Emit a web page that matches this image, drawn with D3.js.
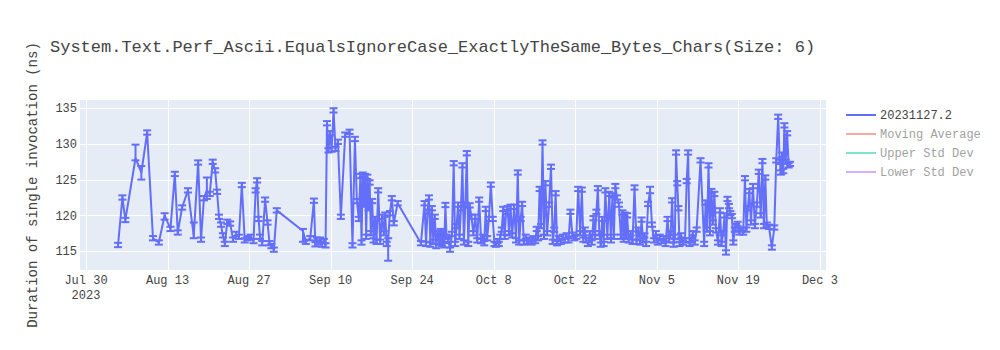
<!DOCTYPE html>
<html>
<head>
<meta charset="utf-8">
<script src="https://cdn.jsdelivr.net/npm/d3@7"></script>
<style>
  html, body { margin: 0; padding: 0; background: #fff; }
  svg { display: block; }
  text { font-family: "Courier New", "Liberation Mono", monospace; fill: #444; }
</style>
</head>
<body>
<svg id="chart" width="1000" height="350"></svg>
<script>
// ---------------- DATA ----------------
const chartTitle = "System.Text.Perf_Ascii.EqualsIgnoreCase_ExactlyTheSame_Bytes_Chars(Size: 6)";
const yAxisTitle = "Duration of single invocation (ns)";
const seriesName = "20231127.2";
const hiddenSeries = ["Moving Average", "Upper Std Dev", "Lower Std Dev"];

// run dates (several runs can share a day)
const runDates = [
  "2023-08-04","2023-08-05","2023-08-05","2023-08-07","2023-08-08","2023-08-09","2023-08-10","2023-08-11","2023-08-12","2023-08-13","2023-08-14","2023-08-14","2023-08-15","2023-08-16",
  "2023-08-17","2023-08-18","2023-08-18","2023-08-19","2023-08-19","2023-08-20","2023-08-20","2023-08-21","2023-08-21","2023-08-21","2023-08-22","2023-08-22","2023-08-22","2023-08-23","2023-08-23",
  "2023-08-24","2023-08-24","2023-08-25","2023-08-25","2023-08-26","2023-08-26","2023-08-27","2023-08-27","2023-08-28","2023-08-28","2023-08-28","2023-08-28","2023-08-29","2023-08-29","2023-08-30","2023-08-30","2023-08-30","2023-08-31","2023-08-31",
  "2023-09-05","2023-09-05","2023-09-06","2023-09-07","2023-09-07","2023-09-07","2023-09-07","2023-09-08","2023-09-08","2023-09-08","2023-09-09","2023-09-09","2023-09-09","2023-09-09","2023-09-10","2023-09-10","2023-09-10","2023-09-11","2023-09-11","2023-09-12","2023-09-13","2023-09-13","2023-09-14","2023-09-14","2023-09-14",
  "2023-09-15","2023-09-15","2023-09-15","2023-09-15","2023-09-15","2023-09-16","2023-09-16","2023-09-16","2023-09-16","2023-09-16","2023-09-17","2023-09-17","2023-09-17","2023-09-17","2023-09-18","2023-09-18","2023-09-18","2023-09-19","2023-09-19","2023-09-19","2023-09-19","2023-09-20","2023-09-20","2023-09-20","2023-09-21",
  "2023-09-25","2023-09-26","2023-09-26","2023-09-26","2023-09-26","2023-09-27","2023-09-27","2023-09-27","2023-09-27","2023-09-28","2023-09-28","2023-09-28","2023-09-28","2023-09-29","2023-09-29","2023-09-29","2023-09-29","2023-09-29","2023-09-30","2023-09-30","2023-09-30",
  "2023-10-01","2023-10-01","2023-10-01","2023-10-01","2023-10-02","2023-10-02","2023-10-02","2023-10-02","2023-10-03","2023-10-03","2023-10-03","2023-10-03","2023-10-04","2023-10-04","2023-10-04","2023-10-05","2023-10-05","2023-10-05","2023-10-06","2023-10-06","2023-10-06","2023-10-06","2023-10-07","2023-10-07","2023-10-07",
  "2023-10-08","2023-10-08","2023-10-08","2023-10-08","2023-10-09","2023-10-09","2023-10-09","2023-10-09","2023-10-10","2023-10-10","2023-10-10","2023-10-10","2023-10-11","2023-10-11","2023-10-11","2023-10-12","2023-10-12","2023-10-12","2023-10-12","2023-10-13","2023-10-13","2023-10-13","2023-10-14","2023-10-14","2023-10-14","2023-10-15","2023-10-15","2023-10-15","2023-10-15",
  "2023-10-16","2023-10-16","2023-10-16","2023-10-16","2023-10-17","2023-10-17","2023-10-17","2023-10-18","2023-10-18","2023-10-18","2023-10-18","2023-10-19","2023-10-19","2023-10-19","2023-10-20","2023-10-20","2023-10-20","2023-10-21","2023-10-21","2023-10-21","2023-10-22","2023-10-22","2023-10-22","2023-10-23","2023-10-23","2023-10-23","2023-10-23",
  "2023-10-24","2023-10-24","2023-10-24","2023-10-25","2023-10-25","2023-10-25","2023-10-25","2023-10-26","2023-10-26","2023-10-26","2023-10-26","2023-10-27","2023-10-27","2023-10-27","2023-10-28","2023-10-28","2023-10-28","2023-10-28","2023-10-29","2023-10-29","2023-10-29","2023-10-30","2023-10-30","2023-10-30","2023-10-30","2023-10-30","2023-10-31","2023-10-31","2023-10-31",
  "2023-11-01","2023-11-01","2023-11-01","2023-11-02","2023-11-02","2023-11-02","2023-11-02","2023-11-03","2023-11-03","2023-11-03","2023-11-04","2023-11-04","2023-11-04","2023-11-05","2023-11-05","2023-11-05","2023-11-06","2023-11-06","2023-11-06","2023-11-07","2023-11-07","2023-11-07","2023-11-07",
  "2023-11-08","2023-11-08","2023-11-08","2023-11-08","2023-11-08","2023-11-09","2023-11-09","2023-11-09","2023-11-10","2023-11-10","2023-11-10","2023-11-10","2023-11-11","2023-11-11","2023-11-11","2023-11-12","2023-11-13","2023-11-13","2023-11-13","2023-11-13","2023-11-14","2023-11-14","2023-11-14","2023-11-14","2023-11-15","2023-11-15","2023-11-15","2023-11-16","2023-11-16","2023-11-16","2023-11-16",
  "2023-11-17","2023-11-17","2023-11-17","2023-11-17","2023-11-18","2023-11-18","2023-11-18","2023-11-18","2023-11-19","2023-11-19","2023-11-19","2023-11-20","2023-11-20","2023-11-20","2023-11-20","2023-11-21","2023-11-21","2023-11-21","2023-11-22","2023-11-22","2023-11-22","2023-11-23","2023-11-23","2023-11-23","2023-11-23","2023-11-24","2023-11-24","2023-11-25","2023-11-25","2023-11-25","2023-11-26","2023-11-26","2023-11-26","2023-11-26","2023-11-26","2023-11-27","2023-11-27","2023-11-27","2023-11-27"
];

// duration (ns) per run
const durations = [
  115.85,122.5,119.35,128.0,126.0,131.6,116.8,116.2,120.0,118.1,125.8,117.6,121.1,123.5,
  117.1,127.4,116.6,122.4,123.5,123.0,127.5,126.3,123.3,119.8,118.7,117.2,116.0,119.1,118.85,
  116.6,117.4,117.0,124.25,116.5,116.8,117.0,116.4,123.5,124.9,119.5,117.0,116.1,122.2,119.0,116.1,115.7,115.2,120.7,
  117.8,116.3,116.8,122.05,115.95,116.6,116.2,116.6,115.9,116.4,115.8,132.9,129.1,131.5,129.2,134.7,129.3,130.3,119.8,131.3,131.7,115.8,130.7,122.0,119.5,
  125.5,116.2,125.7,121.5,125.5,117.0,125.4,121.0,124.6,117.5,122.0,116.5,119.5,116.3,123.5,116.3,119.8,117.5,120.1,116.0,116.5,120.3,122.4,118.9,121.7,
  116.1,121.7,116.0,120.5,122.5,115.9,121.0,116.3,119.8,115.7,117.5,116.2,117.8,116.0,117.5,115.8,121.45,117.0,116.6,115.2,117.4,
  127.3,116.0,118.5,121.5,117.0,121.0,127.0,116.2,121.5,128.7,116.0,121.4,119.8,117.5,119.8,116.5,122.2,116.4,117.0,116.1,120.9,116.8,119.5,124.3,119.5,
  116.0,115.9,116.4,116.0,117.0,118.0,120.9,117.0,120.5,121.0,117.5,121.2,117.2,121.2,116.5,126.0,116.2,119.5,121.6,116.2,117.0,116.3,116.6,116.2,116.8,116.4,118.1,116.8,123.7,
  118.5,130.2,117.0,124.5,117.5,121.5,126.8,116.3,118.0,123.1,116.1,116.8,116.3,117.0,116.5,117.2,116.5,120.5,117.3,116.8,117.0,123.7,117.5,123.6,116.6,118.0,116.5,
  116.0,117.5,116.2,119.6,117.0,120.5,123.8,117.5,115.9,119.5,116.0,123.5,117.0,123.0,116.5,122.8,117.0,124.1,122.5,121.5,117.0,120.4,116.6,120.1,117.0,120.0,116.5,117.5,116.3,
  123.9,116.3,118.0,116.2,119.4,116.5,117.2,116.0,121.6,123.4,118.7,116.5,117.5,116.2,117.0,116.4,116.8,116.0,119.5,116.5,117.5,122.1,115.9,
  117.0,128.8,124.5,121.0,116.0,117.2,116.2,116.5,124.8,128.8,116.0,116.5,117.5,116.2,118.0,127.7,116.0,121.8,118.0,127.0,117.5,123.4,119.0,123.0,117.9,116.2,120.7,116.0,117.5,120.0,114.8,
  122.3,121.3,120.3,119.9,116.2,118.0,118.5,118.8,117.6,118.0,117.6,125.2,118.0,121.0,123.4,119.0,124.1,118.5,121.5,126.1,120.0,127.6,118.5,125.3,118.7,118.4,115.5,118.3,127.7,133.8,127.5,126.0,128.5,126.2,132.6,127.5,131.5,127.0,127.2
];

// error bar extents (ns above / below each run)
const errPlus = [
  .3,.3,.3,1.9,.9,.3,.3,.3,.3,.3,.3,.3,.3,.3,
  1.9,.3,.3,.3,1.8,.3,.3,.3,.3,.3,.3,.3,.3,.3,.3,
  .3,.3,.3,.3,.3,.3,.3,.3,.3,.3,.3,.3,.3,.3,.3,.3,.3,.3,.3,
  .3,.3,.3,.3,.3,.3,.3,.3,.3,.3,.3,.3,.3,.3,.3,.3,.3,.3,.3,.3,.3,.3,.3,.3,.3,
  .3,.3,.3,.3,.3,.3,.3,.3,.3,.3,.3,.3,.3,.3,.3,.3,.3,.3,.3,.3,.3,.3,.3,.3,.3,
  .3,.3,.3,.3,.3,.3,.3,.3,.3,.3,.3,.3,.3,.3,.3,.3,.3,.3,.3,.3,.3,
  .3,.3,.3,.3,.3,.3,.3,.3,.3,.3,.3,.3,.3,.3,.3,.3,.3,.3,.3,.3,.3,.3,.3,.3,.3,
  .3,.3,.3,.3,.3,.3,.3,.3,.3,.3,.3,.3,.3,.3,.3,.3,.3,.3,.3,.3,.3,.3,.3,.3,.3,.3,.3,.3,.3,
  .3,.3,.3,.3,.3,.3,.3,.3,.3,.3,.3,.3,.3,.3,.3,.3,.3,.3,.3,.3,.3,.3,.3,.3,.3,.3,.3,
  .3,.3,.3,.3,.3,.3,.3,.3,.3,.3,.3,.3,.3,.3,.3,.3,.3,.3,.3,.3,.3,.3,.3,.3,.3,.3,.3,.3,.3,
  .3,.3,.3,.3,.3,.3,.3,.3,.3,.6,.3,.3,.3,.3,.3,.3,.3,.3,.3,.3,.3,.3,.3,
  .3,.3,.3,.3,.3,.3,.3,.3,.3,.3,.3,.3,.3,.3,.3,.3,.3,.3,.3,.3,.3,.3,.3,.3,.3,.3,.3,.3,.3,.3,.3,
  .3,.3,.3,.3,.3,.3,.3,.3,.3,.3,.3,.3,.3,.3,.3,.3,.3,.3,.3,.3,.3,.3,.3,.3,.3,.3,.3,.3,.3,.3,.3,.3,.3,.3,.3,.3,.3,.3,.3
];
const errMinus = [
  .3,.3,.3,.3,1.0,.3,.3,.3,.6,.3,.3,.3,.3,.3,
  .3,.3,.3,.3,1.2,.3,.3,.3,.3,.3,.3,.3,.3,.3,.3,
  .3,.3,.3,.3,.3,.3,.3,.3,.3,.3,.3,.3,.3,.3,.3,.3,.3,.3,.3,
  1.5,.3,.3,.3,.3,.3,.3,.3,.3,.3,.3,.3,.3,.3,.3,.3,.3,.3,.3,.3,.3,.3,.3,.3,.3,
  .3,.3,.3,.3,.3,.3,.3,.3,.3,.3,.3,.3,.3,.3,.3,.3,.3,.3,.3,.3,2.85,.3,.3,.3,.3,
  .3,.3,.3,.3,.3,.3,.3,.3,.3,.3,.3,.3,.3,.3,.3,.3,.3,.3,.3,.3,.3,
  .3,.3,.3,.3,.3,.3,.3,.3,.3,.3,.3,.3,.3,.3,.3,.3,.3,.3,.3,.3,.3,.3,.3,.3,.3,
  .3,.3,.3,.3,.3,.3,.3,.3,.3,.3,.3,.3,.3,.3,.3,.3,.3,.3,.3,.3,.3,.3,.3,.3,.3,.3,.3,.3,.3,
  .3,.3,.3,.3,.3,.3,.3,.3,.3,.3,.3,.3,.3,.3,.3,.3,.3,.3,.3,.3,.3,.3,.3,.3,.3,.3,.3,
  .3,.3,.3,.3,.3,.3,.3,.3,.3,.3,.3,.3,.3,.3,.3,.3,.3,.3,.3,.3,.3,.3,.3,.3,.3,.3,.3,.3,.3,
  .3,.3,.3,.3,.3,.3,.3,.3,.3,.3,.3,.3,.3,.3,.3,.3,.3,.3,.3,.3,.3,.3,.3,
  .3,.3,.3,.3,.3,.3,.3,.3,.3,.3,.3,.3,.3,.3,.3,.3,.3,.3,.3,.3,.3,.3,.3,.3,.3,.3,.3,.3,.3,.3,.3,
  .3,.3,.3,.3,.3,.3,.3,.3,.3,.3,.3,.3,.3,.3,.3,.3,.3,.3,.3,.3,.3,.3,.3,.3,.3,.3,.3,.3,.3,.3,.3,.3,.3,.3,.3,.3,.3,.3,.3
];

const xTickDates = ["2023-07-30","2023-08-13","2023-08-27","2023-09-10","2023-09-24","2023-10-08","2023-10-22","2023-11-05","2023-11-19","2023-12-03"];
const xTickLabels = ["Jul 30","Aug 13","Aug 27","Sep 10","Sep 24","Oct 8","Oct 22","Nov 5","Nov 19","Dec 3"];
const xTickYear = "2023";
const yTicks = [115, 120, 125, 130, 135];
const xDomain = ["2023-07-28T23:15", "2023-12-04T01:00"];
const yDomain = [112.35, 136.15];

const seriesColor = "#636efa";
const hiddenColors = ["#EF553B", "#00cc96", "#ab63fa"];

// ---------------- LAYOUT ----------------
const W = 1000, H = 350;
const plot = { left: 80, right: 826, top: 100, bottom: 270 };

const parseDay = d3.timeParse("%Y-%m-%d");
const parseDT = d3.timeParse("%Y-%m-%dT%H:%M");

// spread runs sharing the same day across that day
const n = Math.min(runDates.length, durations.length, errPlus.length, errMinus.length);
const countByDay = d3.rollup(runDates.slice(0, n), v => v.length, d => d);
const seenByDay = new Map();
const points = [];
for (let i = 0; i < n; i++) {
  const day = runDates[i];
  const c = countByDay.get(day);
  const k = seenByDay.get(day) || 0;
  seenByDay.set(day, k + 1);
  const t = new Date(parseDay(day).getTime() + (k + 0.5) / c * 86400000);
  points.push({ t, v: durations[i], ep: errPlus[i], em: errMinus[i] });
}

const x = d3.scaleTime().domain(xDomain.map(parseDT)).range([plot.left, plot.right]);
const y = d3.scaleLinear().domain(yDomain).range([plot.bottom, plot.top]);

const svg = d3.select("#chart");
svg.append("rect").attr("width", W).attr("height", H).attr("fill", "#fff");

svg.append("rect")
  .attr("x", plot.left).attr("y", plot.top)
  .attr("width", plot.right - plot.left).attr("height", plot.bottom - plot.top)
  .attr("fill", "#E5ECF6");

svg.append("defs").append("clipPath").attr("id", "clip")
  .append("rect")
  .attr("x", plot.left).attr("y", plot.top)
  .attr("width", plot.right - plot.left).attr("height", plot.bottom - plot.top);

// grid
const grid = svg.append("g").attr("stroke", "#fff").attr("stroke-width", 1);
xTickDates.forEach(d => {
  const px = Math.round(x(parseDay(d))) + 0.5;
  grid.append("line").attr("x1", px).attr("x2", px).attr("y1", plot.top).attr("y2", plot.bottom);
});
yTicks.forEach(t => {
  const py = Math.round(y(t)) + 0.5;
  grid.append("line").attr("x1", plot.left).attr("x2", plot.right).attr("y1", py).attr("y2", py);
});

// axes labels
const xAxis = svg.append("g").attr("font-size", 12);
xTickDates.forEach((d, i) => {
  const px = x(parseDay(d));
  xAxis.append("text").attr("x", px).attr("y", 284).attr("text-anchor", "middle").text(xTickLabels[i]);
  if (i === 0) {
    xAxis.append("text").attr("x", px).attr("y", 299).attr("text-anchor", "middle").text(xTickYear);
  }
});
const yAxis = svg.append("g").attr("font-size", 12);
yTicks.forEach(t => {
  yAxis.append("text").attr("x", 77).attr("y", y(t)).attr("dy", "0.35em")
    .attr("text-anchor", "end").text(t);
});

// data
const dataG = svg.append("g").attr("clip-path", "url(#clip)");
const errG = dataG.append("g").attr("stroke", seriesColor).attr("stroke-width", 2);
points.forEach(p => {
  const px = x(p.t);
  const y1 = y(p.v + p.ep), y2 = y(p.v - p.em);
  errG.append("line").attr("x1", px).attr("x2", px).attr("y1", y1).attr("y2", y2);
  errG.append("line").attr("x1", px - 4).attr("x2", px + 4).attr("y1", y1).attr("y2", y1);
  errG.append("line").attr("x1", px - 4).attr("x2", px + 4).attr("y1", y2).attr("y2", y2);
});
dataG.append("path")
  .datum(points)
  .attr("fill", "none")
  .attr("stroke", seriesColor)
  .attr("stroke-width", 2)
  .attr("stroke-linejoin", "round")
  .attr("d", d3.line().x(p => x(p.t)).y(p => y(p.v)));

// title
svg.append("text").attr("x", 50).attr("y", 46).attr("dy", "0.35em")
  .attr("font-size", 17).text(chartTitle);

// y axis title
svg.append("text")
  .attr("transform", `translate(32,${(plot.top + plot.bottom) / 2}) rotate(-90)`)
  .attr("text-anchor", "middle").attr("dy", "0.35em")
  .attr("font-size", 14).text(yAxisTitle);

// legend
const legend = svg.append("g").attr("font-size", 12);
const legendItems = [{ name: seriesName, color: seriesColor, on: true }]
  .concat(hiddenSeries.map((s, i) => ({ name: s, color: hiddenColors[i], on: false })));
legendItems.forEach((it, i) => {
  const ly = 115 + i * 19;
  const g = legend.append("g").attr("opacity", it.on ? 1 : 0.5);
  g.append("line").attr("x1", 846).attr("x2", 876).attr("y1", ly).attr("y2", ly)
    .attr("stroke", it.color).attr("stroke-width", 2);
  g.append("text").attr("x", 880).attr("y", ly).attr("dy", "0.35em").text(it.name);
});
</script>
</body>
</html>
